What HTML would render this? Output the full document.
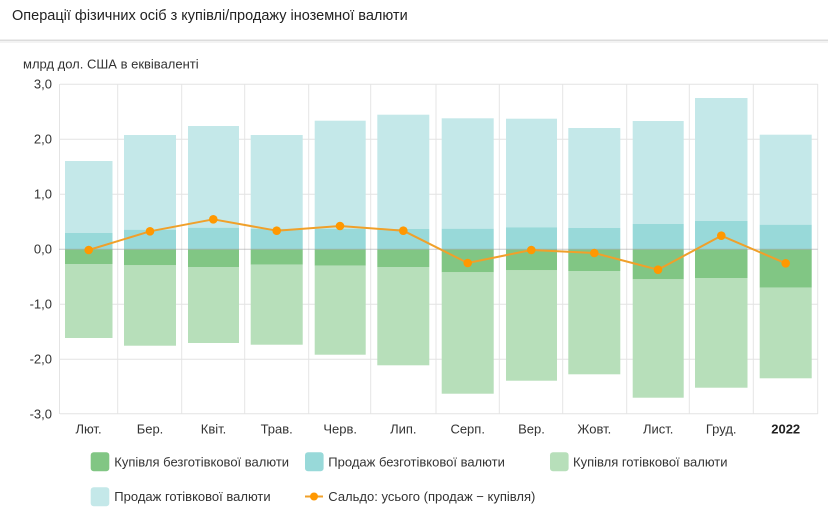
<!DOCTYPE html>
<html><head><meta charset="utf-8"><style>
html,body{margin:0;padding:0;background:#fff;}
body{width:828px;height:507px;overflow:hidden;font-family:"Liberation Sans",Arial,sans-serif;}
</style></head><body>
<svg width="828" height="507" viewBox="0 0 828 507" xmlns="http://www.w3.org/2000/svg" font-family="Liberation Sans, Arial, sans-serif">
<rect width="828" height="507" fill="#fff"/>
<text x="12" y="20" font-size="14.5" fill="#222">Операції фізичних осіб з купівлі/продажу іноземної валюти</text>
<rect x="0" y="39.5" width="828" height="1.5" fill="#dcdcdc"/>
<rect x="0" y="41" width="828" height="2" fill="#f3f3f3"/>
<text x="23" y="68.5" font-size="13" fill="#333">млрд дол. США в еквіваленті</text>
<!-- grid -->
<g stroke="#e4e4e4" stroke-width="1">
<line x1="60" y1="84.3" x2="817.7" y2="84.3"/>
<line x1="60" y1="139.3" x2="817.7" y2="139.3"/>
<line x1="60" y1="194.3" x2="817.7" y2="194.3"/>
<line x1="60" y1="304.3" x2="817.7" y2="304.3"/>
<line x1="60" y1="359.3" x2="817.7" y2="359.3"/>
<line x1="60" y1="413.8" x2="817.7" y2="413.8"/>
<line x1="59.5" y1="84" x2="59.5" y2="414"/>
<line x1="117.7" y1="84" x2="117.7" y2="414"/>
<line x1="181.7" y1="84" x2="181.7" y2="414"/>
<line x1="244.7" y1="84" x2="244.7" y2="414"/>
<line x1="308.7" y1="84" x2="308.7" y2="414"/>
<line x1="370.7" y1="84" x2="370.7" y2="414"/>
<line x1="436" y1="84" x2="436" y2="414"/>
<line x1="499.3" y1="84" x2="499.3" y2="414"/>
<line x1="562.7" y1="84" x2="562.7" y2="414"/>
<line x1="626.7" y1="84" x2="626.7" y2="414"/>
<line x1="689.3" y1="84" x2="689.3" y2="414"/>
<line x1="753.3" y1="84" x2="753.3" y2="414"/>
<line x1="817.7" y1="84" x2="817.7" y2="414"/>
</g>
<!-- y labels -->
<g font-size="13" fill="#333" text-anchor="end">
<text x="52" y="88.5">3,0</text>
<text x="52" y="143.5">2,0</text>
<text x="52" y="198.5">1,0</text>
<text x="52" y="253.5">0,0</text>
<text x="52" y="308.5">-1,0</text>
<text x="52" y="363.5">-2,0</text>
<text x="52" y="418.5">-3,0</text>
</g>
<!-- bars: cash sale (light cyan) -->
<g fill="#c4e8e9">
<rect x="65" y="161" width="47.5" height="72"/>
<rect x="124" y="135" width="52" height="94.7"/>
<rect x="188" y="126" width="51" height="101.7"/>
<rect x="250.7" y="135" width="52" height="93.7"/>
<rect x="314.7" y="120.7" width="51" height="108"/>
<rect x="377.3" y="114.7" width="52" height="114.3"/>
<rect x="441.7" y="118.3" width="52" height="110.4"/>
<rect x="506" y="118.7" width="51" height="108.6"/>
<rect x="568.3" y="128" width="52" height="100"/>
<rect x="632.7" y="121" width="51" height="103"/>
<rect x="695" y="98" width="52.5" height="123"/>
<rect x="759.7" y="134.7" width="52" height="90"/>
</g>
<!-- cashless sale (teal) -->
<g fill="#98d9d9">
<rect x="65" y="233" width="47.5" height="16.3"/>
<rect x="124" y="229.7" width="52" height="19.6"/>
<rect x="188" y="227.7" width="51" height="21.6"/>
<rect x="250.7" y="228.7" width="52" height="20.6"/>
<rect x="314.7" y="228.7" width="51" height="20.6"/>
<rect x="377.3" y="229" width="52" height="20.3"/>
<rect x="441.7" y="228.7" width="52" height="20.6"/>
<rect x="506" y="227.3" width="51" height="22"/>
<rect x="568.3" y="228" width="52" height="21.3"/>
<rect x="632.7" y="224" width="51" height="25.3"/>
<rect x="695" y="221" width="52.5" height="28.3"/>
<rect x="759.7" y="224.7" width="52" height="24.6"/>
</g>
<!-- cashless purchase (dark green) -->
<g fill="#81c684">
<rect x="65" y="249.3" width="47.5" height="14.7"/>
<rect x="124" y="249.3" width="52" height="16"/>
<rect x="188" y="249.3" width="51" height="17.7"/>
<rect x="250.7" y="249.3" width="52" height="15.4"/>
<rect x="314.7" y="249.3" width="51" height="16.4"/>
<rect x="377.3" y="249.3" width="52" height="17.7"/>
<rect x="441.7" y="249.3" width="52" height="23"/>
<rect x="506" y="249.3" width="51" height="21"/>
<rect x="568.3" y="249.3" width="52" height="21.7"/>
<rect x="632.7" y="249.3" width="51" height="30"/>
<rect x="695" y="249.3" width="52.5" height="28.7"/>
<rect x="759.7" y="249.3" width="52" height="38.4"/>
</g>
<!-- cash purchase (light green) -->
<g fill="#b7dfba">
<rect x="65" y="264" width="47.5" height="74"/>
<rect x="124" y="265.3" width="52" height="80.4"/>
<rect x="188" y="267" width="51" height="76"/>
<rect x="250.7" y="264.7" width="52" height="80"/>
<rect x="314.7" y="265.7" width="51" height="89"/>
<rect x="377.3" y="267" width="52" height="98.3"/>
<rect x="441.7" y="272.3" width="52" height="121.4"/>
<rect x="506" y="270.3" width="51" height="110.4"/>
<rect x="568.3" y="271" width="52" height="103.3"/>
<rect x="632.7" y="279.3" width="51" height="118.4"/>
<rect x="695" y="278" width="52.5" height="109.7"/>
<rect x="759.7" y="287.7" width="52" height="90.6"/>
</g>
<line x1="59" y1="249.3" x2="817.7" y2="249.3" stroke="#9e9e9e" stroke-opacity="0.55" stroke-width="1"/>
<!-- saldo line -->
<polyline fill="none" stroke="#f0a02a" stroke-width="2" stroke-linejoin="round"
points="88.7,250 150,231.3 213.3,219.3 276.7,230.7 340,226 403.3,230.7 467.7,263 531.3,250 594.3,253 658,269.7 721.3,235.7 785.7,263.3"/>
<g fill="#ff9800">
<circle cx="88.7" cy="250" r="4.3"/>
<circle cx="150" cy="231.3" r="4.3"/>
<circle cx="213.3" cy="219.3" r="4.3"/>
<circle cx="276.7" cy="230.7" r="4.3"/>
<circle cx="340" cy="226" r="4.3"/>
<circle cx="403.3" cy="230.7" r="4.3"/>
<circle cx="467.7" cy="263" r="4.3"/>
<circle cx="531.3" cy="250" r="4.3"/>
<circle cx="594.3" cy="253" r="4.3"/>
<circle cx="658" cy="269.7" r="4.3"/>
<circle cx="721.3" cy="235.7" r="4.3"/>
<circle cx="785.7" cy="263.3" r="4.3"/>
</g>
<!-- x labels -->
<g font-size="13" fill="#333" text-anchor="middle">
<text x="88.5" y="433.5">Лют.</text>
<text x="150" y="433.5">Бер.</text>
<text x="213.5" y="433.5">Квіт.</text>
<text x="276.7" y="433.5">Трав.</text>
<text x="340.2" y="433.5">Черв.</text>
<text x="403.3" y="433.5">Лип.</text>
<text x="467.7" y="433.5">Серп.</text>
<text x="531.5" y="433.5">Вер.</text>
<text x="594.3" y="433.5">Жовт.</text>
<text x="658.2" y="433.5">Лист.</text>
<text x="721.2" y="433.5">Груд.</text>
<text x="785.7" y="433.5" font-weight="bold" fill="#222">2022</text>
</g>
<!-- legend -->
<g font-size="13" fill="#333">
<rect x="90.7" y="452.3" width="18.6" height="19" rx="3" fill="#81c684"/>
<text x="114.3" y="466.5">Купівля безготівкової валюти</text>
<rect x="305" y="452.3" width="18.6" height="19" rx="3" fill="#98d9d9"/>
<text x="328.3" y="466.5">Продаж безготівкової валюти</text>
<rect x="550" y="452.3" width="18.6" height="19" rx="3" fill="#b7dfba"/>
<text x="573" y="466.5">Купівля готівкової валюти</text>
<rect x="90.7" y="487.3" width="18.6" height="19" rx="3" fill="#c4e8e9"/>
<text x="114.3" y="501">Продаж готівкової валюти</text>
<line x1="305" y1="496.5" x2="323" y2="496.5" stroke="#f0a02a" stroke-width="2"/>
<circle cx="314" cy="496.5" r="4" fill="#ff9800"/>
<text x="328.3" y="501">Сальдо: усього (продаж − купівля)</text>
</g>
</svg>
</body></html>
